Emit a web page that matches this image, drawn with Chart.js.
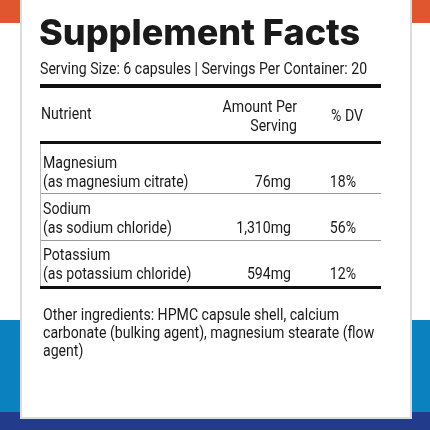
<!DOCTYPE html><html><head><meta charset="utf-8">
<script src="https://cdn.jsdelivr.net/npm/chart.js@4"></script>
<style>html,body{margin:0;padding:0;background:#fff}#w{width:430px;height:430px}</style></head><body>
<div id="w"><canvas id="c" width="430" height="430"></canvas></div>
<script>
const title = "Supplement Facts";
const servingText = "Serving Size: 6 capsules | Servings Per Container: 20";
const headers = ["Nutrient", "Amount Per|Serving", "% DV"];
const nutrients = ["Magnesium", "Sodium", "Potassium"];
const forms = ["(as magnesium citrate)", "(as sodium chloride)", "(as potassium chloride)"];
const amounts = ["76mg", "1,310mg", "594mg"];
const dvs = ["18%", "56%", "12%"];
const otherLines = ["Other ingredients: HPMC capsule shell, calcium", "carbonate (bulking agent), magnesium stearate (flow", "agent)"];

const SX = 0.83;
const labelPlugin = {
  id: 'label',
  beforeDraw(chart) {
    const ctx = chart.ctx;
    ctx.save();
    ctx.fillStyle = '#fff'; ctx.fillRect(0,0,430,430);
    ctx.fillStyle = '#e0572f'; ctx.fillRect(0,0,430,23);
    ctx.fillStyle = '#0b82bf'; ctx.fillRect(0,320,430,92);
    ctx.fillStyle = '#233b8b'; ctx.fillRect(0,412,430,18);
    ctx.fillStyle = '#d8dcde'; ctx.fillRect(20,0,392,419);
    ctx.fillStyle = '#fff'; ctx.fillRect(22,0,388,417);
    ctx.restore();
  },
  afterDraw(chart) {
    const ctx = chart.ctx;
    const nt = (t, x, y, align) => {
      ctx.save(); ctx.translate(x, y); ctx.scale(SX, 1);
      ctx.textAlign = align || 'left'; ctx.fillText(t, 0, 0); ctx.restore();
    };
    ctx.save();
    ctx.fillStyle = '#1a1a1a';
    ctx.textBaseline = 'alphabetic';
    ctx.font = '800 36px Inter, Roboto, sans-serif';
    ctx.fillText(title, 39, 45);
    ctx.font = '17px Roboto, sans-serif';
    nt(servingText, 40, 74);
    const hl = (y, w, c) => { ctx.fillStyle = c; ctx.fillRect(40, y, 341, w); };
    hl(84, 4, '#111'); hl(141, 3, '#111'); hl(286, 3, '#111');
    hl(193, 1, '#999'); hl(240, 1, '#999');
    ctx.fillStyle = '#bbb'; ctx.fillRect(40, 144, 1, 142);
    ctx.fillStyle = '#1a1a1a';
    ctx.font = '17px Roboto, sans-serif';
    nt(headers[0], 41, 119);
    const hp = headers[1].split('|');
    nt(hp[0], 297, 112, 'right'); nt(hp[1], 297, 131, 'right');
    nt(headers[2], 363, 121, 'right');
    nutrients.forEach((n, i) => {
      const y = 168 + i * 46;
      nt(n, 43, y);
      nt(forms[i], 43, y + 19);
      nt(amounts[i], 291, y + 19, 'right');
      nt(dvs[i], 356, y + 19, 'right');
    });
    otherLines.forEach((t, i) => nt(t, 43, 320 + i * 18));
    ctx.restore();
  }
};
new Chart(document.getElementById('c'), {
  type: 'bar',
  data: { labels: nutrients, datasets: [{ data: [], backgroundColor: 'transparent' }] },
  options: { responsive: false, animation: false, events: [],
    plugins: { legend: { display: false }, tooltip: { enabled: false } },
    scales: { x: { display: false }, y: { display: false } } },
  plugins: [labelPlugin]
});
</script></body></html>
